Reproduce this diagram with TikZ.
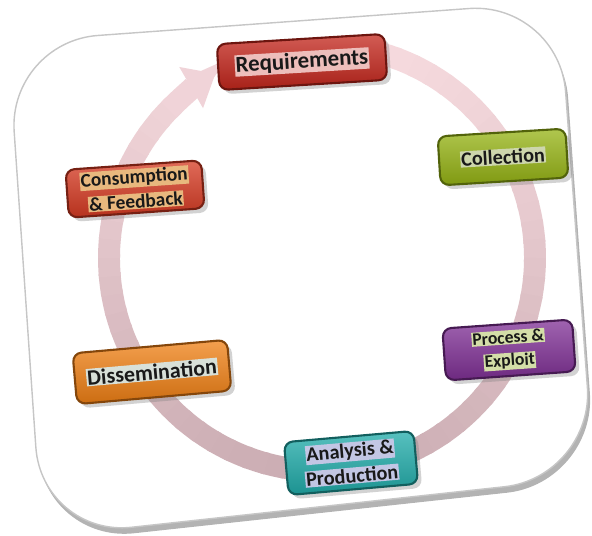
\documentclass[tikz,border=0pt]{standalone}
\usepackage{fontspec}
\setmainfont{Carlito}
\usetikzlibrary{arrows.meta, shadows}

\definecolor{reqred}{RGB}{196,38,28}
\definecolor{colgreen}{RGB}{150,180,20}
\definecolor{procpurple}{RGB}{128,48,150}
\definecolor{anateal}{RGB}{32,172,170}
\definecolor{disorange}{RGB}{240,128,20}
\definecolor{conred}{RGB}{214,58,34}
\definecolor{colhalo}{RGB}{205,214,172}
\definecolor{prochalo}{RGB}{212,222,168}
\definecolor{anahalo}{RGB}{194,198,228}
\definecolor{dishalo}{RGB}{216,224,216}
\definecolor{conhalo}{RGB}{232,184,126}
\definecolor{arclight}{RGB}{246,218,222}
\definecolor{arcdark}{RGB}{204,174,180}

\newcommand{\hl}[2]{{\setlength{\fboxsep}{0.5pt}\colorbox{#1}{#2}}}

\begin{document}
\begin{tikzpicture}[x=0.02cm, y=-0.02cm, thick,
  phase node/.style={top color=#1!75!white, bottom color=#1!85!black, draw=#1!55!black,
    line width=1.2pt, rounded corners=5pt, align=center, text=black!90,
    inner sep=2pt, drop shadow={opacity=.35}}]
\useasboundingbox (0,0) rectangle (592,536);
% card
\filldraw[fill=white, draw=gray!45, rounded corners=1.8cm,
  drop shadow={shadow xshift=.5mm, shadow yshift=-1.2mm, fill=gray, opacity=.6}]
  (8,42) -- (559,2) -- (594,477) -- (42,537) -- cycle;
% cycle arrow
\foreach \a in {-85,-80,...,220}{
  \pgfmathsetmacro\mix{50+50*sin(\a)}
  \draw[arcdark!\mix!arclight, line width=12.5pt] (322,258) ++(\a:213) arc[start angle=\a, end angle=\a+6, radius=213];}
\draw[arcdark!15!arclight, line width=12.5pt, -{Triangle[length=16pt, width=26pt]}]
  (322,258) ++(224:213) arc[start angle=224, end angle=240, radius=213];
% phases
\node[phase node=reqred, minimum width=3.36cm, minimum height=0.92cm, rotate=3.5,
  font=\bfseries\fontsize{13}{15}\selectfont] (req) at (302,62) {\hl{reqred!30!white}{Requirements}};
\node[phase node=colgreen, minimum width=2.56cm, minimum height=0.98cm, rotate=3.5,
  font=\bfseries\fontsize{11.5}{13}\selectfont] (col) at (503,157) {\hl{colhalo}{Collection}};
\node[phase node=procpurple, minimum width=2.6cm, minimum height=1.04cm, rotate=4,
  font=\bfseries\fontsize{10}{13}\selectfont] (proc) at (509,350) {\hl{prochalo}{Process \&}\\\hl{prochalo}{Exploit}};
\node[phase node=anateal, minimum width=2.6cm, minimum height=1.06cm, rotate=5,
  font=\bfseries\fontsize{11.5}{14.5}\selectfont] (ana) at (351,463) {\hl{anahalo}{Analysis \&}\\\hl{anahalo}{Production}};
\node[phase node=disorange, minimum width=3.1cm, minimum height=1.02cm, rotate=5,
  font=\bfseries\fontsize{12.5}{14}\selectfont] (dis) at (152,372) {\hl{dishalo}{Dissemination}};
\node[phase node=conred, minimum width=2.72cm, minimum height=0.96cm, rotate=4,
  font=\bfseries\fontsize{11}{14}\selectfont] (con) at (135,189) {\hl{conhalo}{Consumption}\\\hl{conhalo}{\& Feedback}};
\end{tikzpicture}
\end{document}
